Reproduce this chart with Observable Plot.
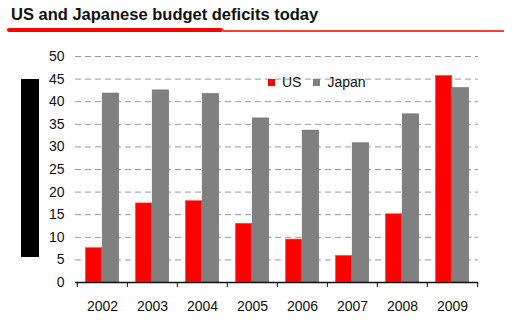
<!DOCTYPE html>
<html>
<head>
<meta charset="utf-8">
<script src="https://cdn.jsdelivr.net/npm/d3@7"></script>
<script src="https://cdn.jsdelivr.net/npm/@observablehq/plot@0.6"></script>
<style>
  html, body { margin: 0; padding: 0; background: #fff; }
  body { width: 513px; height: 332px; position: relative; overflow: hidden; font-family: "Liberation Sans", Arial, sans-serif; }
  #title { position: absolute; left: 11px; top: 6px; font-size: 16.5px; line-height: 16px; font-weight: bold; color: #111; white-space: nowrap; }
  #rule-thick { position: absolute; left: 7px; top: 28px; width: 216px; height: 4px; background: #ff0000; border-radius: 2px; }
  #rule-thin { position: absolute; left: 223px; top: 30px; width: 281px; height: 2px; background: #ff3a3a; }
  #blackbar { position: absolute; left: 21px; top: 79px; width: 18px; height: 178px; background: #000; }
  #chart { position: absolute; left: 0; top: 34px; }
  #legend { position: absolute; left: 268px; top: 74px; font-size: 14px; line-height: 16px; color: #111; display: flex; align-items: center; }
  #legend .sw { display: inline-block; width: 7px; height: 7px; margin-right: 7px; }
  #legend .item { display: flex; align-items: center; margin-right: 12px; }
</style>
</head>
<body>
<div id="title">US and Japanese budget deficits today</div>
<div id="rule-thick"></div>
<div id="rule-thin"></div>
<div id="blackbar"></div>
<div id="chart"></div>
<div id="legend"></div>
<script>
const years = ["2002", "2003", "2004", "2005", "2006", "2007", "2008", "2009"];
const usDeficit = [7.6, 17.5, 18.0, 13.0, 9.5, 5.9, 15.1, 45.7];
const japanDeficit = [41.8, 42.5, 41.7, 36.3, 33.6, 30.8, 37.2, 43.0];
const seriesNames = ["US", "Japan"];
const seriesColors = ["#ff0000", "#808080"];
const yTicks = [0, 5, 10, 15, 20, 25, 30, 35, 40, 45, 50];

const rows = years.map((y, i) => ({ year: y, us: usDeficit[i], japan: japanDeficit[i] }));

const width = 513, height = 298;
const marginLeft = 75, marginRight = 35;
const step = (width - marginLeft - marginRight) / years.length;

const plot = Plot.plot({
  width, height,
  marginLeft, marginRight, marginTop: 22, marginBottom: 50,
  style: { fontFamily: "Liberation Sans, Arial, sans-serif", fontSize: "14px", color: "#111", background: "transparent" },
  x: { domain: years, padding: 0, label: null },
  y: { domain: [0, 50], label: null },
  marks: [
    Plot.gridY(yTicks.filter(d => d > 0), { stroke: "#9a9a9a", strokeOpacity: 1, strokeDasharray: "6,4" }),
    Plot.barY(rows, { x: "year", y: "us", fill: seriesColors[0], stroke: "#ff5050", strokeWidth: 0.6, insetLeft: 8.4, insetRight: 25.2 }),
    Plot.barY(rows, { x: "year", y: "japan", fill: seriesColors[1], stroke: "#6a6a6a", strokeWidth: 0.6, insetLeft: 25.2, insetRight: 8.4 }),
    Plot.axisY(yTicks, { tickSize: 0, tickPadding: 11, fontSize: 14, label: null }),
    Plot.axisX({ tickSize: 0, tickPadding: 19, fontSize: 14, label: null }),
    Plot.axisX(years, { text: null, tickSize: 5, dx: -step / 2, stroke: "#111", label: null }),
    Plot.axisX([years[years.length - 1]], { text: null, tickSize: 5, dx: step / 2, stroke: "#111", label: null }),
    Plot.ruleY([0], { stroke: "#111", strokeWidth: 1.5 })
  ]
});
document.getElementById("chart").appendChild(plot);

const legend = document.getElementById("legend");
seriesNames.forEach((name, i) => {
  const item = document.createElement("span");
  item.className = "item";
  const sw = document.createElement("span");
  sw.className = "sw";
  sw.style.background = seriesColors[i];
  item.appendChild(sw);
  item.appendChild(document.createTextNode(name));
  legend.appendChild(item);
});
</script>
</body>
</html>
